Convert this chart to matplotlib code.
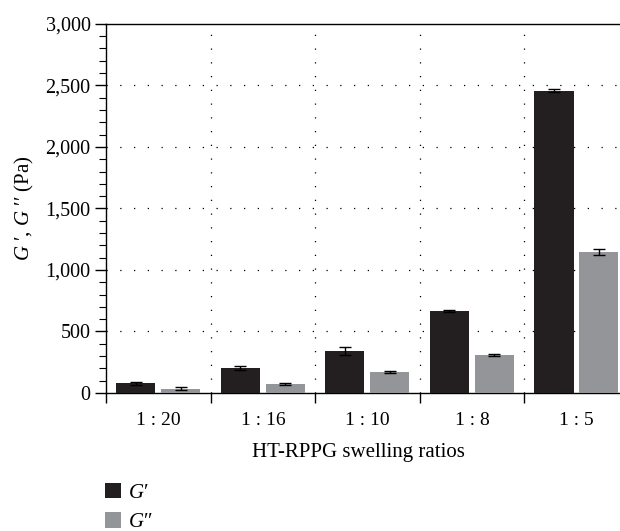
import matplotlib
matplotlib.use("Agg")
import matplotlib.pyplot as plt
from matplotlib.patches import Patch
from matplotlib.ticker import MultipleLocator, FuncFormatter
import numpy as np

# data
ratios = ["1 : 20", "1 : 16", "1 : 10", "1 : 8", "1 : 5"]
g_storage = [80, 200, 340, 667, 2455]
g_storage_err = [12, 15, 35, 10, 12]
g_loss = [35, 72, 170, 308, 1143]
g_loss_err = [10, 8, 8, 10, 25]

plt.rcParams['font.family'] = ['Liberation Serif', 'DejaVu Serif']
plt.rcParams['mathtext.fontset'] = 'custom'
plt.rcParams['mathtext.it'] = 'Liberation Serif:italic'
plt.rcParams['mathtext.rm'] = 'Liberation Serif'

dark = "#231f20"
grey = "#939598"

fig = plt.figure(figsize=(6.2, 5.31), dpi=100)
ax = fig.add_axes([0.171, 0.26, 0.843, 0.695])

x = np.arange(len(ratios))
w = 0.375
off = 0.215
ax.bar(x - off, g_storage, w, color=dark, zorder=3)
ax.bar(x + off, g_loss, w, color=grey, zorder=3)
ax.errorbar(x - off, g_storage, yerr=g_storage_err, fmt='none', ecolor='black',
            elinewidth=1, capsize=4, capthick=1, zorder=4)
ax.errorbar(x + off, g_loss, yerr=g_loss_err, fmt='none', ecolor='black',
            elinewidth=1, capsize=4, capthick=1, zorder=4)

ax.set_xlim(-0.5, 4.5)
ax.set_ylim(0, 3000)

# x ticks at the category boundaries, labels at the centres
ax.set_xticks(np.arange(-0.5, 4.0, 1.0))
ax.set_xticklabels([])
ax.set_xticks(x, minor=True)
ax.set_xticklabels(ratios, minor=True, fontsize=14)
ax.tick_params(axis='x', which='major', direction='out', length=7, width=1)
ax.tick_params(axis='x', which='minor', length=0, pad=14)

ax.yaxis.set_major_locator(MultipleLocator(500))
ax.yaxis.set_minor_locator(MultipleLocator(100))
ax.yaxis.set_major_formatter(FuncFormatter(lambda v, p: f"{int(v):,}"))
ax.tick_params(axis='y', which='major', direction='out', length=8, width=1, labelsize=14.5, pad=3)
ax.tick_params(axis='y', which='minor', direction='out', length=5, width=0.8)

ax.spines['right'].set_visible(False)
for sp in ['left', 'bottom', 'top']:
    ax.spines[sp].set_linewidth(1.0)

# dotted grid
for yv in [500, 1000, 1500, 2000, 2500]:
    ax.axhline(yv, color='black', linewidth=0.9, linestyle=(0, (1, 10)), zorder=1)
for xv in [0.5, 1.5, 2.5, 3.5]:
    ax.axvline(xv, color='black', linewidth=0.9, linestyle=(0, (1, 10)), zorder=1)

ax.set_xlabel("HT-RPPG swelling ratios", fontsize=15)
ax.xaxis.set_label_coords(0.482, -0.135)
ax.set_ylabel(r"$G$ ′, $G$ ′′ (Pa)", fontsize=15)
ax.yaxis.set_label_coords(-0.134, 0.5)

handles = [Patch(facecolor=dark, label=r"$G$′"), Patch(facecolor=grey, label=r"$G$′′")]
fig.legend(handles=handles, loc='upper left', bbox_to_anchor=(0.17, 0.09),
           frameon=False, fontsize=15, handlelength=0.75, handleheight=0.75,
           handletextpad=0.35, labelspacing=0.45, borderaxespad=0, borderpad=0)

fig.savefig("out.png", dpi=100)
